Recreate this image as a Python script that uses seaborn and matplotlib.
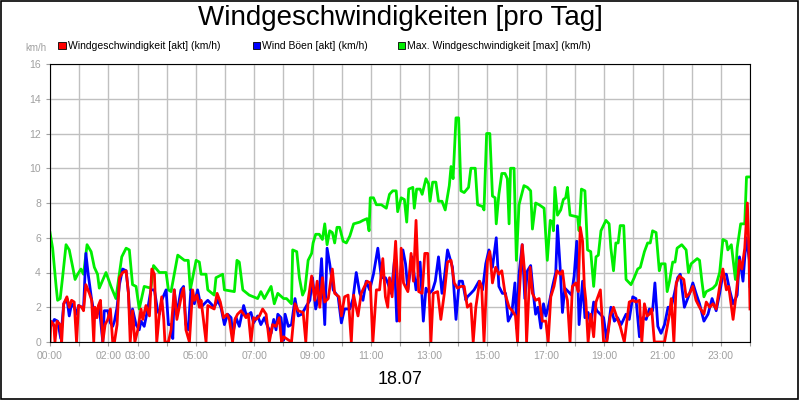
import matplotlib
matplotlib.use("Agg")
import matplotlib.pyplot as plt
import seaborn as sns
import pandas as pd
from matplotlib.patches import Rectangle

plt.rcParams["font.family"] = "Liberation Sans"

title = "Windgeschwindigkeiten [pro Tag]"
date_label = "18.07"
series_names = ["Windgeschwindigkeit [akt] (km/h)", "Wind Böen [akt] (km/h)",
                "Max. Windgeschwindigkeit [max] (km/h)"]
series_colors = ["#ff0000", "#0000ff", "#00ee00"]
tick_hours = [0, 2, 3, 5, 7, 9, 11, 13, 15, 17, 19, 21, 23]
tick_labels = ["00:00", "02:00", "03:00", "05:00", "07:00", "09:00", "11:00",
               "13:00", "15:00", "17:00", "19:00", "21:00", "23:00"]

green_t = [0.0,0.09,0.21,0.26,0.35,0.43,0.55,0.66,0.78,0.86,0.95,1.06,1.15,1.27,1.41,1.52,1.63,1.69,1.92,2.09,2.26,2.46,2.61,2.72,2.83,2.95,3.06,3.23,3.46,3.55,3.75,3.98,4.06,4.15,4.38,4.61,4.74,4.81,5.01,5.12,5.18,5.35,5.41,5.63,5.69,5.92,5.98,6.32,6.41,6.49,6.61,6.83,7.12,7.23,7.35,7.58,7.69,7.81,8.01,
           8.11,8.28,8.32,8.46,8.55,8.66,8.74,8.85,8.97,9.02,9.11,9.23,9.34,9.42,9.50,9.59,9.68,9.76,9.84,9.93,10.05,10.16,10.28,10.41,10.62,10.73,10.87,10.94,10.98,11.09,11.19,11.36,11.53,11.64,11.75,11.87,11.92,12.04,12.15,12.23,12.30,12.44,12.49,12.57,12.69,12.76,12.89,12.98,13.03,13.12,13.23,13.32,13.44,13.55,13.69,13.75,13.82,13.92,14.01,14.09,14.20,14.35,14.43,14.58,14.66,14.83,14.88,14.97,15.08,15.17,15.26,15.30,15.39,15.49,15.60,15.68,15.74,15.79,15.91,15.99,16.08,
           16.25,16.37,16.48,16.54,16.65,16.77,16.94,17.05,17.15,17.23,17.26,17.31,17.40,17.51,17.60,17.68,17.74,17.83,18.09,18.14,18.22,18.34,18.43,18.54,18.64,18.72,18.80,18.89,19.06,19.17,19.23,19.32,19.40,19.48,19.55,19.67,19.75,19.92,20.03,20.15,20.24,20.38,20.49,20.58,20.66,20.78,20.89,20.95,21.09,21.16,21.24,21.35,21.43,21.50,21.66,21.81,21.89,21.98,22.19,22.27,22.35,22.42,22.50,22.73,22.84,22.96,23.07,23.19,23.24,23.36,23.50,23.56,23.68,23.82,23.88,24.0]
green_v = [6.3,5.4,3.2,2.4,2.5,3.7,5.6,5.3,4.3,3.6,3.9,4.2,3.9,5.6,5.2,4.3,3.9,3.1,4.0,3.2,2.5,4.9,5.4,5.3,3.3,3.2,1.9,3.2,3.1,4.4,4.0,4.0,3.0,2.9,5.0,4.7,4.7,3.0,4.7,4.6,3.9,3.9,3.0,2.7,3.7,3.9,3.0,2.9,4.7,4.6,3.0,2.7,2.5,2.9,2.5,3.2,2.2,2.8,2.5,
           2.5,2.2,5.3,5.2,3.7,2.7,3.0,4.7,5.1,5.7,6.2,6.2,5.9,6.8,5.6,6.4,6.3,5.7,6.6,6.6,5.8,5.7,6.1,6.8,6.9,7.0,7.1,6.4,8.3,8.3,7.9,7.9,7.7,8.5,8.7,8.7,7.5,8.3,8.2,6.9,8.8,8.9,7.7,8.8,8.8,8.5,9.4,9.1,8.1,9.2,9.2,8.1,8.1,7.6,9.0,10.1,9.4,12.9,12.9,8.7,8.6,8.9,10.0,10.0,7.9,7.8,7.6,12.0,12.0,8.4,8.3,6.8,8.5,9.7,9.7,9.4,6.8,10.0,10.0,4.7,7.9,
           9.0,8.9,8.7,6.5,8.0,7.9,7.7,4.7,7.0,6.9,6.4,8.9,7.3,7.6,8.2,8.3,8.9,7.3,7.2,6.4,8.8,8.7,5.3,5.2,3.2,4.9,5.0,6.4,7.0,6.8,5.4,4.1,5.7,5.7,6.7,6.7,3.6,3.3,3.7,4.2,4.3,5.2,5.7,5.7,6.4,6.3,4.1,4.5,4.5,2.9,3.5,4.6,4.6,5.4,5.6,5.3,4.0,4.5,4.8,4.7,3.5,2.6,2.9,3.1,3.3,4.0,5.9,5.8,5.3,5.6,3.6,5.4,6.8,6.8,9.5,9.5]

blue_t = [0.0,0.03,0.15,0.26,0.37,0.47,0.58,0.66,0.74,0.83,0.91,0.98,1.09,1.15,1.23,1.31,1.43,1.52,1.61,1.69,1.81,1.86,1.98,2.07,2.15,2.21,2.30,2.38,2.49,2.61,2.69,2.75,2.83,2.95,3.06,3.12,3.23,3.35,3.46,3.58,3.69,3.75,3.83,3.98,4.06,4.15,4.21,4.26,4.35,4.49,4.58,4.66,4.74,4.83,4.95,5.06,5.18,5.29,5.41,5.52,5.63,5.75,5.86,5.98,6.09,6.21,6.26,6.38,6.49,6.64,6.72,6.83,6.89,6.98,7.12,7.23,7.35,7.46,7.58,7.67,7.75,7.81,7.92,8.01,
          8.06,8.17,8.28,8.40,8.51,8.63,8.80,8.91,9.00,9.11,9.23,9.31,9.42,9.50,9.59,9.71,9.88,9.99,10.10,10.28,10.39,10.50,10.62,10.73,10.84,10.96,11.09,11.24,11.36,11.50,11.58,11.70,11.81,11.89,11.98,12.10,12.19,12.27,12.41,12.55,12.69,12.80,12.89,13.01,13.12,13.21,13.32,13.44,13.52,13.63,13.80,13.92,14.03,14.14,14.26,14.31,14.43,14.54,14.71,14.83,14.94,15.05,15.17,15.30,15.39,15.51,15.62,15.71,15.83,15.94,16.0,
          16.08,16.19,16.28,16.37,16.48,16.57,16.65,16.73,16.83,16.92,17.00,17.11,17.23,17.34,17.40,17.49,17.57,17.65,17.77,17.88,17.97,18.06,18.14,18.26,18.34,18.45,18.54,18.64,18.75,18.87,18.98,19.09,19.23,19.35,19.46,19.58,19.75,19.86,19.98,20.09,20.21,20.32,20.44,20.55,20.66,20.74,20.84,20.95,21.07,21.19,21.30,21.41,21.52,21.61,21.75,21.93,22.04,22.15,22.27,22.42,22.56,22.70,22.84,22.96,23.07,23.19,23.30,23.42,23.56,23.64,23.76,23.87,23.98,24.0]
blue_v = [0.9,0.9,1.3,1.2,0.2,2.2,2.5,1.5,2.2,2.0,1.6,2.1,2.0,1.9,5.1,3.9,2.4,1.6,1.6,2.0,0.0,1.8,1.8,1.1,0.9,1.2,2.0,3.3,4.2,4.1,2.8,1.0,1.9,1.0,0.7,1.2,0.9,1.9,3.0,3.0,1.8,1.6,2.4,3.0,1.0,1.0,0.2,3.0,1.6,3.0,3.2,1.0,0.7,3.0,2.2,3.0,2.0,2.2,2.4,2.2,2.0,2.4,2.0,1.0,1.6,1.4,0.4,1.4,0.9,2.1,1.6,1.6,1.7,1.1,1.5,1.0,1.4,0.9,0.5,1.3,0.7,1.6,1.4,0.1,
          1.6,0.9,1.0,2.5,1.5,1.6,2.1,2.4,3.7,1.9,2.8,4.8,1.0,5.4,4.5,3.0,2.6,1.1,1.9,1.9,2.5,4.0,2.8,2.4,3.5,3.0,3.9,5.4,3.7,3.7,3.4,2.8,4.7,1.2,3.3,5.3,4.5,3.0,4.9,3.0,4.6,1.2,3.1,2.8,3.0,3.5,4.9,2.8,3.7,5.3,4.3,1.3,3.5,3.5,2.4,2.6,2.8,3.0,3.5,3.0,4.5,5.3,4.3,6.0,3.2,2.8,2.8,1.2,1.6,3.4,0.8,
          3.9,5.6,2.5,4.1,4.4,2.8,1.6,2.0,0.8,2.2,1.5,2.2,3.2,4.0,6.7,4.3,1.7,3.1,2.9,2.7,3.8,5.8,1.0,3.5,1.4,1.7,1.0,2.3,1.8,1.6,1.4,0.1,2.0,1.2,1.4,1.0,1.6,1.3,2.6,2.5,0.3,1.4,1.3,1.9,1.8,3.4,0.9,0.5,1.0,2.0,2.0,2.8,3.7,3.9,2.0,2.8,3.4,2.8,2.2,1.2,1.6,2.5,1.8,2.8,3.9,3.9,3.0,2.2,2.7,4.9,3.5,6.0,4.7,3.2]

red_t = [0.0,0.03,0.13,0.17,0.24,0.35,0.40,0.47,0.58,0.66,0.74,0.83,0.91,0.98,1.09,1.15,1.23,1.35,1.43,1.50,1.54,1.61,1.66,1.73,1.81,1.89,1.98,2.07,2.15,2.21,2.30,2.38,2.49,2.61,2.69,2.75,2.83,2.91,3.01,3.12,3.18,3.29,3.41,3.49,3.58,3.66,3.75,3.83,3.90,3.94,4.06,4.15,4.26,4.35,4.43,4.51,4.58,4.66,4.78,4.89,4.95,5.04,5.12,5.18,5.26,5.35,5.41,5.52,5.63,5.73,5.84,5.95,6.07,6.15,6.26,6.34,6.43,6.55,6.64,6.72,6.80,6.89,6.98,7.06,7.18,7.29,7.41,7.52,7.63,7.75,7.86,7.94,8.01,
         8.28,8.40,8.51,8.68,8.77,8.85,8.97,9.08,9.16,9.25,9.34,9.42,9.54,9.68,9.76,9.91,9.99,10.10,10.22,10.33,10.41,10.56,10.67,10.87,10.98,11.07,11.19,11.30,11.41,11.50,11.58,11.64,11.73,11.85,11.92,11.98,12.04,12.12,12.27,12.38,12.46,12.55,12.64,12.76,12.85,12.95,13.06,13.14,13.29,13.40,13.52,13.63,13.75,13.86,13.97,14.09,14.20,14.31,14.43,14.51,14.60,14.73,14.80,14.88,15.00,15.08,15.17,15.28,15.39,15.49,15.60,15.74,15.85,15.96,16.03,
         16.08,16.19,16.28,16.34,16.46,16.54,16.65,16.77,16.88,17.00,17.08,17.17,17.28,17.38,17.49,17.57,17.65,17.74,17.83,17.91,18.03,18.11,18.18,18.26,18.32,18.37,18.45,18.54,18.64,18.72,18.87,18.98,19.09,19.21,19.32,19.44,19.55,19.69,19.86,19.98,20.09,20.21,20.29,20.38,20.47,20.55,20.63,20.72,21.07,21.24,21.30,21.39,21.47,21.58,21.73,21.81,21.93,22.04,22.15,22.27,22.42,22.50,22.62,22.73,22.84,22.96,23.07,23.19,23.27,23.42,23.53,23.64,23.72,23.82,23.91,23.96,24.0]
red_v = [0.0,1.2,1.0,0.0,1.2,1.0,0.0,2.2,2.6,2.0,2.4,2.3,0.0,2.1,2.0,1.8,3.3,2.8,2.4,0.0,2.0,1.4,2.1,2.4,0.0,1.0,1.3,1.9,0.0,0.0,1.0,3.7,4.0,4.1,2.8,0.0,1.8,0.0,0.7,1.9,1.3,2.1,1.5,4.2,3.9,0.0,1.6,2.6,1.3,0.0,0.0,0.7,3.0,1.3,2.0,2.7,3.1,0.7,0.0,3.0,2.4,2.7,2.0,2.4,1.3,0.0,2.1,2.0,1.9,2.8,2.3,1.4,1.6,1.3,0.0,1.3,1.6,1.8,1.6,1.4,1.6,0.0,1.4,1.3,1.5,1.9,1.6,0.0,1.0,0.9,1.4,0.0,0.3,
         0.0,2.2,1.8,1.7,0.0,2.4,3.8,2.4,3.5,2.0,3.7,2.3,2.5,4.2,2.8,2.6,1.5,2.6,2.7,0.0,2.7,1.5,2.8,3.5,3.4,0.0,3.0,3.0,4.8,2.6,2.0,3.7,2.6,5.8,3.4,1.2,5.4,3.4,2.9,5.1,3.5,7.0,2.9,2.8,5.1,5.1,0.0,2.8,2.9,1.3,2.8,4.6,4.7,3.4,3.1,3.2,3.2,2.0,2.2,0.0,2.0,3.5,3.2,0.0,4.7,5.2,3.4,4.3,3.9,4.1,2.8,2.0,1.8,1.5,0.0,
         2.5,5.6,3.9,0.0,4.3,2.8,2.4,2.5,1.2,1.2,0.0,2.6,3.2,4.1,3.9,4.1,3.0,2.4,0.0,3.2,3.4,2.9,6.6,5.8,3.2,2.4,0.0,1.6,0.3,2.3,3.0,0.0,0.0,1.5,2.0,1.4,0.9,0.0,2.3,2.4,2.3,2.4,0.0,2.2,1.5,1.6,1.9,0.0,0.0,1.6,2.5,0.0,3.4,3.8,3.6,2.6,2.8,3.2,2.4,2.0,1.6,2.3,2.0,2.2,1.9,3.2,4.2,3.0,3.2,1.3,2.8,4.7,4.2,5.4,8.0,5.4,1.9]

df = pd.concat([
    pd.DataFrame({"h": green_t, "v": green_v, "s": series_names[2]}),
    pd.DataFrame({"h": blue_t, "v": blue_v, "s": series_names[1]}),
    pd.DataFrame({"h": red_t, "v": red_v, "s": series_names[0]}),
], ignore_index=True)

fig = plt.figure(figsize=(8, 4), dpi=100)
fig.patch.set_facecolor("white")
fig.add_artist(Rectangle((0.001, 0.002), 0.997, 0.995, transform=fig.transFigure,
                         fill=False, edgecolor="black", linewidth=1.2))
ax = fig.add_axes([0.0625, 0.145, 0.875, 0.695])
sns.lineplot(data=df, x="h", y="v", hue="s",
             hue_order=[series_names[2], series_names[1], series_names[0]],
             palette={series_names[0]: series_colors[0], series_names[1]: series_colors[1],
                      series_names[2]: series_colors[2]},
             estimator=None, sort=False, linewidth=2, legend=False, ax=ax)
ax.set_xlim(0, 24)
ax.set_ylim(0, 16)
ax.set_xticks(range(25))
ax.set_xticklabels([tick_labels[tick_hours.index(h)] if h in tick_hours else "" for h in range(25)])
ax.set_yticks(range(0, 17, 2))
ax.tick_params(labelsize=7.5, labelcolor="#a0a0a0", color="#a0a0a0", length=3)
ax.grid(True, color="#c0c0c0", linewidth=1)
ax.set_axisbelow(True)
for sp in ax.spines.values():
    sp.set_color("black")
ax.set_xlabel("")
ax.set_ylabel("")

fig.text(0.5, 0.955, title, ha="center", va="center", fontsize=20)
fig.text(0.5, 0.05, date_label, ha="center", va="center", fontsize=13)
fig.text(0.045, 0.88, "km/h", ha="center", va="center", fontsize=7, color="#a0a0a0")
leg_x = [0.073, 0.316, 0.497]
for x, name, col in zip(leg_x, series_names, series_colors):
    fig.add_artist(Rectangle((x, 0.877), 0.009, 0.018, transform=fig.transFigure,
                             facecolor=col, edgecolor="black", linewidth=0.6))
    fig.text(x + 0.012, 0.886, name, ha="left", va="center", fontsize=7.5)

fig.savefig("out.png", dpi=100)
